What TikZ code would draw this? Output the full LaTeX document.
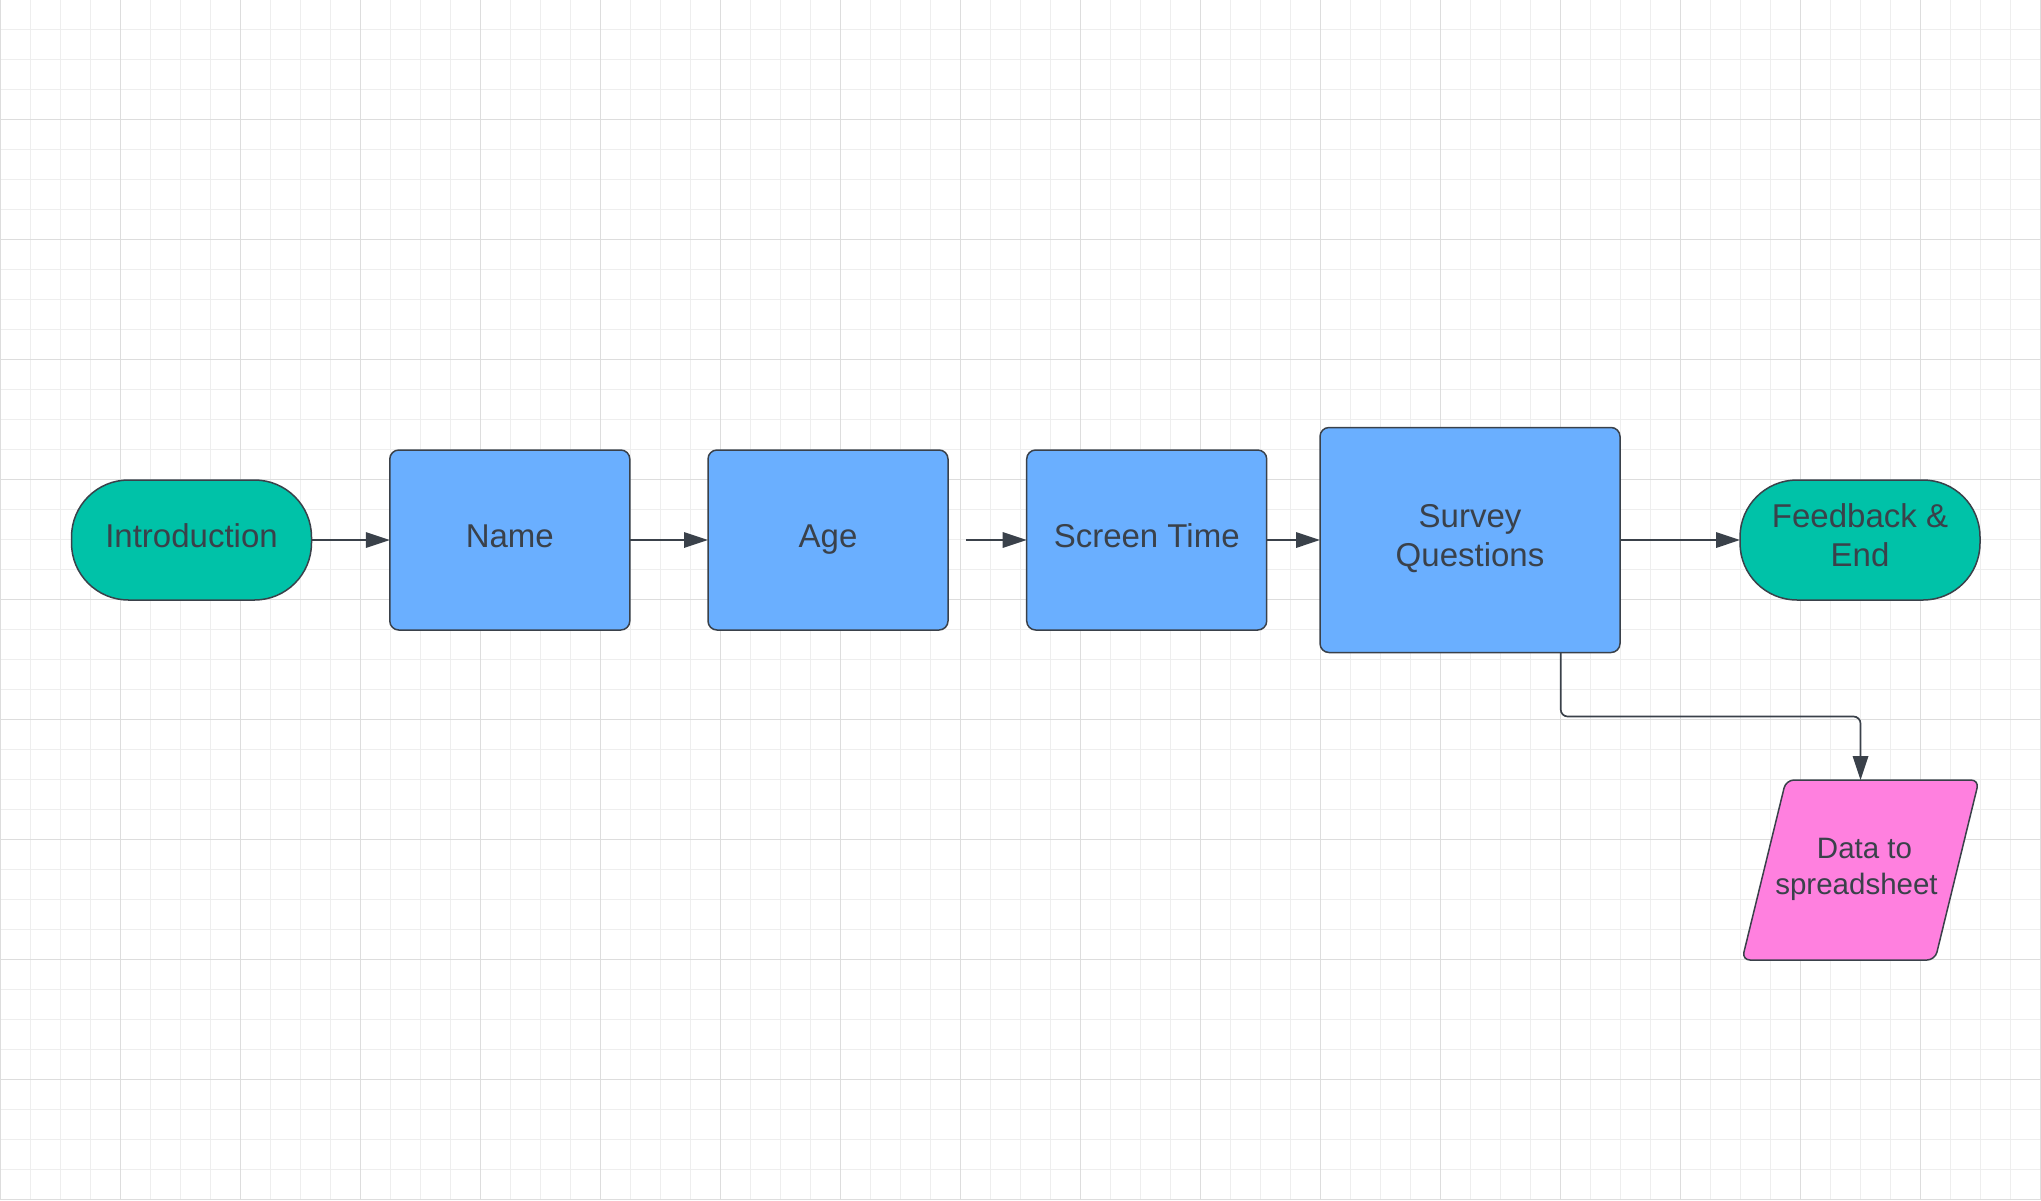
\documentclass[tikz,border=0pt]{standalone}
\usepackage{fontspec}
\setmainfont{Liberation Sans}
\usetikzlibrary{arrows.meta,backgrounds,calc}
\definecolor{gridminor}{HTML}{EEEEEE}
\definecolor{gridmajor}{HTML}{DDDDDD}
\definecolor{edge}{HTML}{3A414A}
\definecolor{ink}{HTML}{3A414A}
\definecolor{boxblue}{HTML}{6AAFFF}
\definecolor{termteal}{HTML}{00C2A8}
\definecolor{pinkfill}{HTML}{FF80DF}
\begin{document}
\begin{tikzpicture}[x=1pt,y=-1pt,
  shapebase/.style={draw=edge, line width=1.5pt, inner sep=0pt, outer sep=0pt,
    text=ink, font=\fontsize{33}{39}\selectfont, align=center},
  procbox/.style={shapebase, fill=boxblue, rounded corners=9pt,
    minimum width=240pt, minimum height=180pt},
  termbox/.style={shapebase, fill=termteal, rounded corners=57pt,
    minimum width=240pt, minimum height=120pt},
  oneline/.style={text height=24pt, text depth=10pt},
  twoline/.style={text height=62pt, text depth=10pt},
  datanode/.style={inner sep=0pt, outer sep=0pt, text=ink, align=center,
    font=\fontsize{29.5}{36}\selectfont, minimum width=237pt, minimum height=180pt,
    text height=57pt, text depth=9pt},
  conn/.style={draw=edge, line width=1.7pt, -{Triangle[length=24pt,width=15.5pt]}},
]
\useasboundingbox (0,0) rectangle (2041,1200);
\begin{scope}[on background layer]
  \fill[white] (0,0) rectangle (2041,1200);
  \foreach \i in {0,...,68} {
    \pgfmathsetmacro\xx{30*\i+0.5}
    \draw[gridminor, line width=1pt] (\xx,0) -- (\xx,1200);
  }
  \foreach \j in {1,...,40} {
    \pgfmathsetmacro\yy{30*\j-0.5}
    \draw[gridminor, line width=1pt] (0,\yy) -- (2041,\yy);
  }
  \foreach \i in {0,...,17} {
    \pgfmathsetmacro\xx{120*\i+0.5}
    \draw[gridmajor, line width=1pt] (\xx,0) -- (\xx,1200);
  }
  \foreach \j in {1,...,10} {
    \pgfmathsetmacro\yy{120*\j-0.5}
    \draw[gridmajor, line width=1pt] (0,\yy) -- (2041,\yy);
  }
\end{scope}

\node[termbox, oneline] (intro) at (191.5,540) {Introduction};
\node[procbox, oneline] (name) at (509.8,540) {Name};
\node[procbox, oneline] (age) at (828,540) {Age};
\node[procbox, oneline] (screen) at (1146.7,540) {Screen Time};
\node[procbox, twoline, minimum width=300pt, minimum height=225pt] (survey) at (1470,540) {Survey\\Questions};
\node[termbox, twoline] (feedback) at (1860,540) {Feedback \&\\End};
\node[datanode] (data) at (1860.5,870) {\hspace*{8pt}Data to\\spreadsheet\hspace*{8pt}};

\begin{scope}[on background layer]
  \draw[draw=edge, line width=1.5pt, fill=pinkfill, rounded corners=8pt]
    (data.south west) -- ([xshift=44pt]data.north west) -- (data.north east)
    -- ([xshift=-44pt]data.south east) -- cycle;
\end{scope}

\coordinate (agegap) at (966,540);
\draw[conn] (intro) -- (name);
\draw[conn] (name) -- (age);
\draw[conn] (agegap) -- (screen);
\draw[conn] (screen) -- (survey);
\draw[conn] (survey) -- (feedback);
\draw[conn, rounded corners=7pt] ([xshift=90.7pt]survey.south) -- ++(0,64) -| (data.north);
\end{tikzpicture}
\end{document}
